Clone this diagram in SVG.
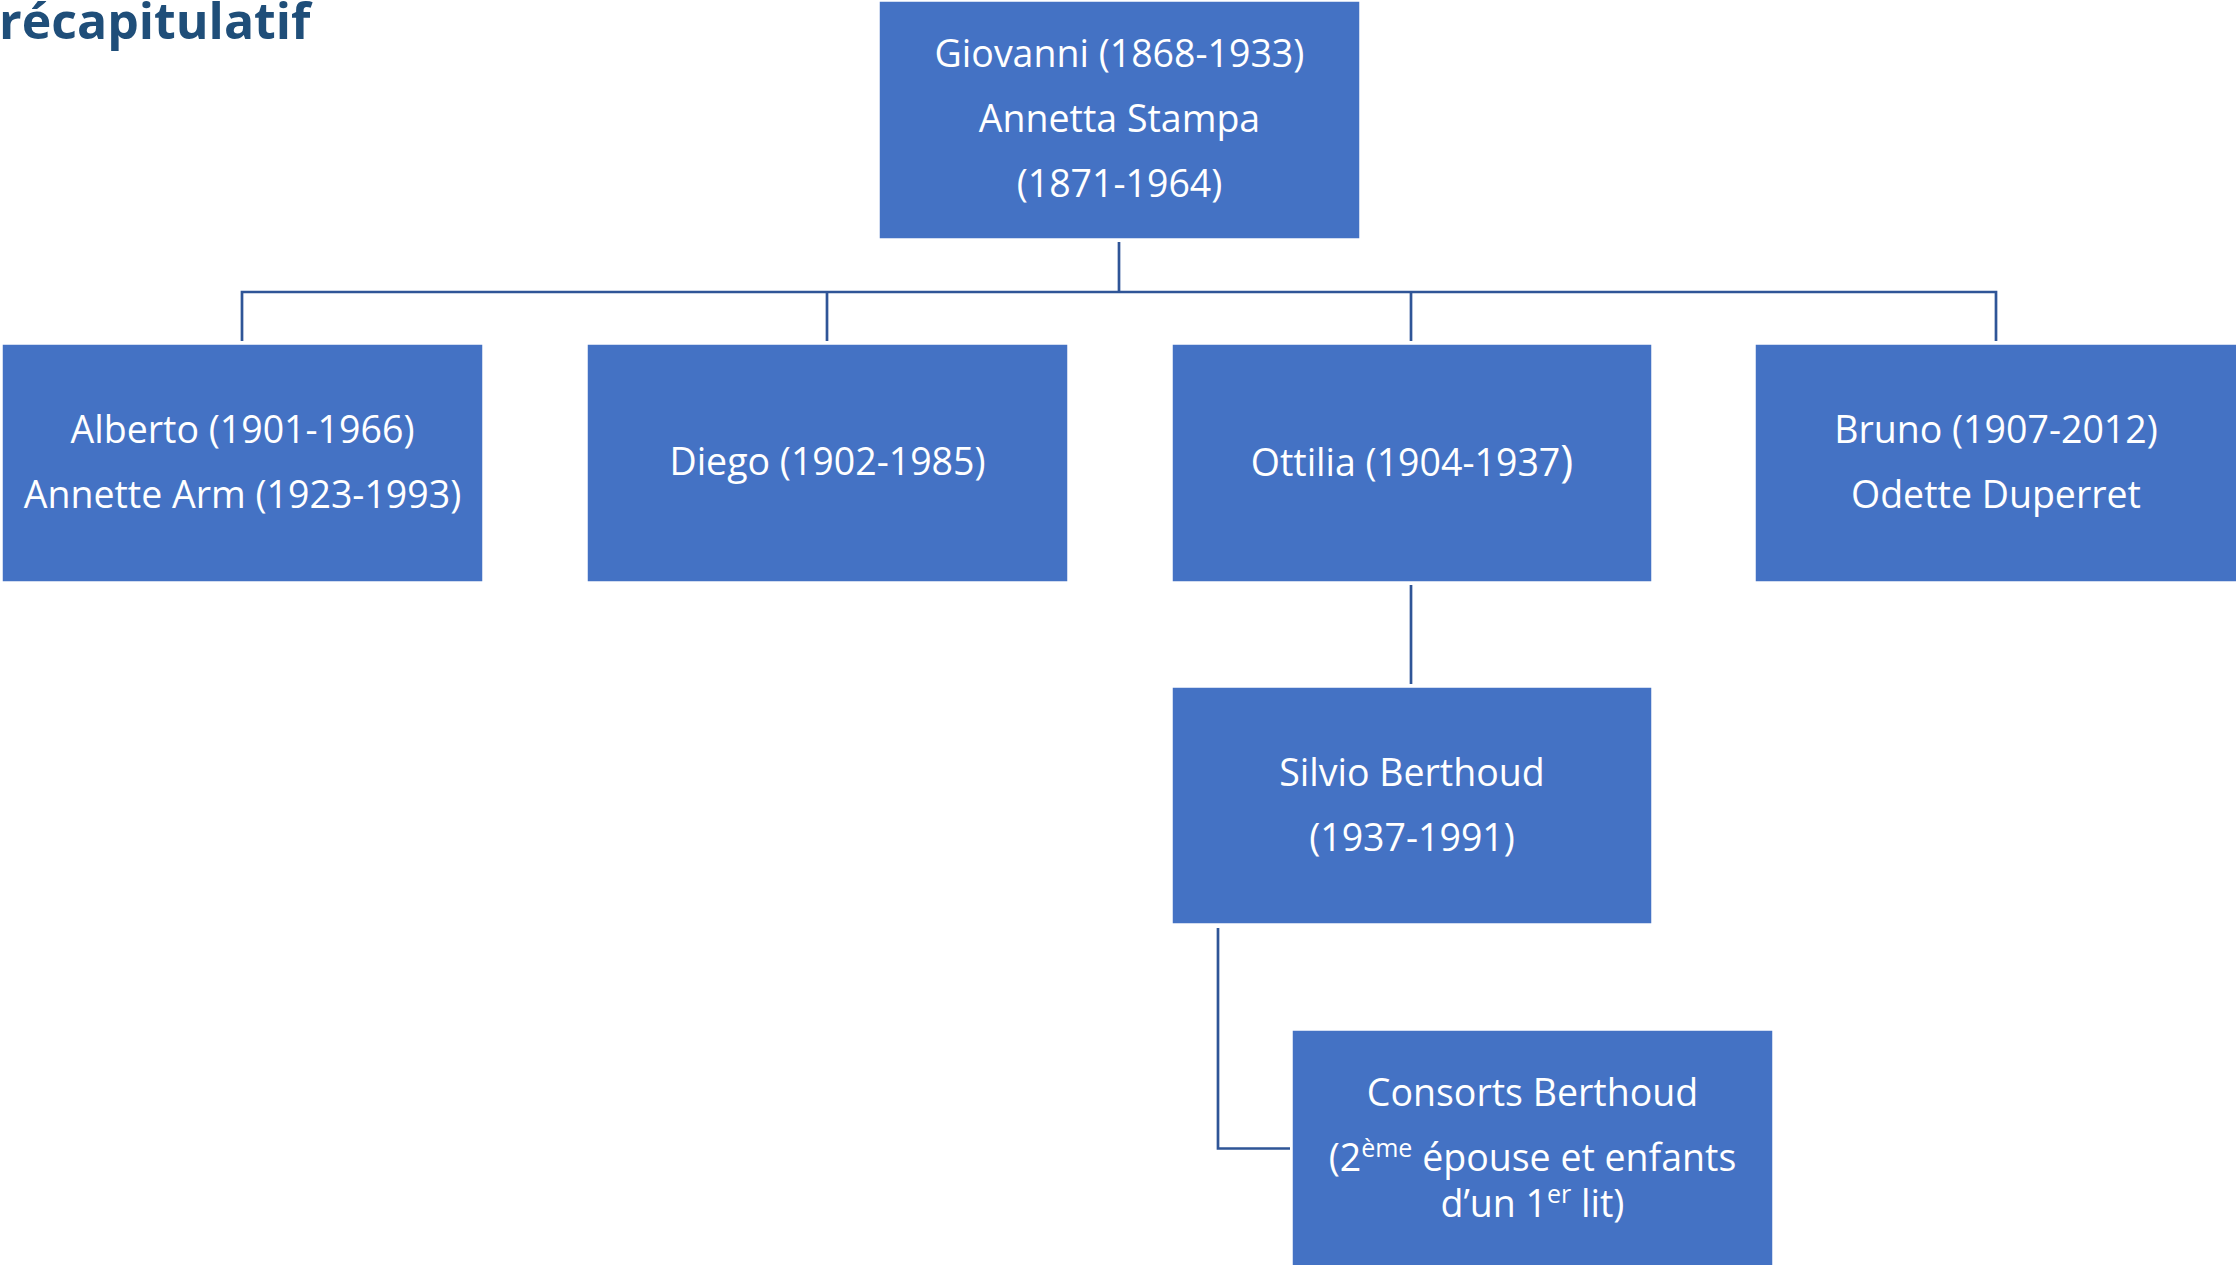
<svg xmlns="http://www.w3.org/2000/svg" width="2236" height="1265" viewBox="0 0 2236 1265">
<style>
.box{fill:#4472C4;stroke:#FFFFFF;stroke-width:1.5}
.lbl{font-family:"Open Sans","Noto Sans","Liberation Sans",sans-serif;font-size:37.5px;fill:#FFFFFF;text-anchor:middle}
.con{fill:none;stroke:#2F5597;stroke-width:2.7}
.title{font-family:"Open Sans","Noto Sans","Liberation Sans",sans-serif;font-size:50px;font-weight:bold;fill:#1F4E79}
</style>
<rect width="2236" height="1265" fill="#FFFFFF"/>
<text class="title" x="-1" y="39">récapitulatif</text>
<g id="connectors">
<path class="con" d="M1119,242 V292"/>
<path class="con" d="M242,341 V292 H1996 V341"/>
<path class="con" d="M827,292 V341"/>
<path class="con" d="M1411,292 V341"/>
<path class="con" d="M1411,585 V684"/>
<path class="con" d="M1218,928 V1148.5 H1290"/>
</g>
<g id="giovanni">
<rect class="box" x="879" y="1" width="481" height="238"/>
<text class="lbl" x="1119.5" y="67">Giovanni (1868-1933)</text>
<text class="lbl" x="1119.5" y="132">Annetta Stampa</text>
<text class="lbl" x="1119.5" y="197">(1871-1964)</text>
</g>
<g id="alberto">
<rect class="box" x="2" y="344" width="481" height="238"/>
<text class="lbl" x="242.5" y="443">Alberto (1901-1966)</text>
<text class="lbl" x="242.5" y="508">Annette Arm (1923-1993)</text>
</g>
<g id="diego">
<rect class="box" x="587" y="344" width="481" height="238"/>
<text class="lbl" x="827.5" y="475">Diego (1902-1985)</text>
</g>
<g id="ottilia">
<rect class="box" x="1172" y="344" width="480" height="238"/>
<text class="lbl" x="1412" y="476">Ottilia (1904-1937<tspan font-size="44">)</tspan></text>
</g>
<g id="bruno">
<rect class="box" x="1755" y="344" width="482" height="238"/>
<text class="lbl" x="1996" y="443">Bruno (1907-2012)</text>
<text class="lbl" x="1996" y="508">Odette Duperret</text>
</g>
<g id="silvio">
<rect class="box" x="1172" y="687" width="480" height="237"/>
<text class="lbl" x="1412" y="786">Silvio Berthoud</text>
<text class="lbl" x="1412" y="851">(1937-1991)</text>
</g>
<g id="consorts">
<rect class="box" x="1292" y="1030" width="481" height="250"/>
<text class="lbl" x="1532.5" y="1106">Consorts Berthoud</text>
<text class="lbl" x="1532.5" y="1171">(2<tspan font-size="25" dy="-14">ème</tspan><tspan dy="14"> épouse et enfants</tspan></text>
<text class="lbl" x="1532.5" y="1217">d’un 1<tspan font-size="25" dy="-14">er</tspan><tspan dy="14"> lit)</tspan></text>
</g>
</svg>
